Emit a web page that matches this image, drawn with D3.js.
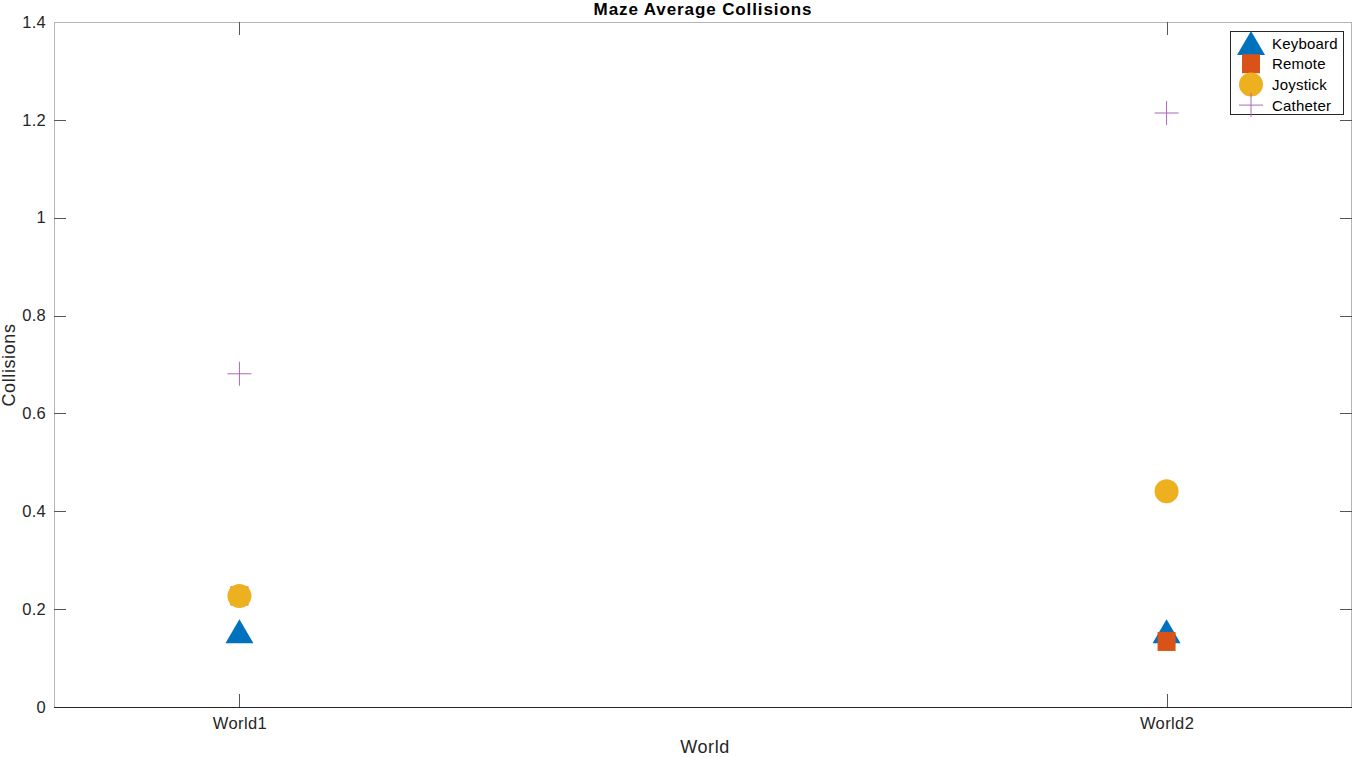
<!DOCTYPE html>
<html><head><meta charset="utf-8">
<script src="https://cdn.jsdelivr.net/npm/d3@7"></script>
<style>body{margin:0;background:#fff;} text{font-family:"Liberation Sans",Arial,sans-serif;}</style>
</head><body>
<svg id="c" width="1353" height="757"></svg>
<script>
const categories = ["World1", "World2"];
const seriesNames = ["Keyboard", "Remote", "Joystick", "Catheter"];
const keyboard = [0.155, 0.155];
const remote = [0.227, 0.134];
const joystick = [0.227, 0.441];
const catheter = [0.681, 1.214];
const yTicks = [0, 0.2, 0.4, 0.6, 0.8, 1, 1.2, 1.4];

const series = [
  {name: seriesNames[0], values: keyboard, shape: "tri", color: "#0072BD"},
  {name: seriesNames[1], values: remote, shape: "sq", color: "#D95319"},
  {name: seriesNames[2], values: joystick, shape: "circ", color: "#EDB120"},
  {name: seriesNames[3], values: catheter, shape: "plus", color: "#A66BB8"}
];

const svg = d3.select("#c");
const L = 54, R = 1352, T = 22, B = 707;
const x = d3.scaleLinear().domain([0.8, 2.2]).range([L, R]);
const y = d3.scaleLinear().domain([0, 1.4]).range([B, T]);

const g = svg.append("g");
// box
g.append("line").attr("x1", L).attr("x2", R).attr("y1", T + 0.5).attr("y2", T + 0.5).attr("stroke", "#b5b5b5");
g.append("line").attr("x1", R - 0.5).attr("x2", R - 0.5).attr("y1", T).attr("y2", B).attr("stroke", "#b5b5b5");
g.append("line").attr("x1", L + 0.5).attr("x2", L + 0.5).attr("y1", T).attr("y2", B).attr("stroke", "#b5b5b5");

// y axis
const yAxis = d3.axisLeft(y).tickValues(yTicks).tickSize(0).tickPadding(8).tickFormat(d => d3.format("~g")(d));
const ya = g.append("g").attr("transform", `translate(${L},0)`).call(yAxis);
ya.select(".domain").remove();
ya.selectAll("text").attr("font-size", 16.5).attr("letter-spacing", 0.3).attr("fill", "#262626").attr("font-family", "Liberation Sans, Arial, sans-serif");
yTicks.forEach(t => {
  if (t === 0 || t === 1.4) return;
  const yy = Math.round(y(t)) + 0.5;
  g.append("line").attr("x1", L).attr("x2", L + 12).attr("y1", yy).attr("y2", yy).attr("stroke", "#555");
  g.append("line").attr("x1", R - 12).attr("x2", R).attr("y1", yy).attr("y2", yy).attr("stroke", "#555");
});

// x axis
const xAxis = d3.axisBottom(x).tickValues([1, 2]).tickSize(0).tickPadding(10).tickFormat(d => categories[d - 1]);
const xa = g.append("g").attr("transform", `translate(0,${B})`).call(xAxis);
xa.select(".domain").remove();
xa.selectAll("text").attr("font-size", 16.5).attr("letter-spacing", 0.4).attr("fill", "#262626").attr("font-family", "Liberation Sans, Arial, sans-serif");
[1, 2].forEach(v => {
  const xx = Math.round(x(v)) + 0.5;
  g.append("line").attr("x1", xx).attr("x2", xx).attr("y1", B).attr("y2", B - 13).attr("stroke", "#555");
  g.append("line").attr("x1", xx).attr("x2", xx).attr("y1", T).attr("y2", T + 13).attr("stroke", "#555");
});
g.append("line").attr("x1", L).attr("x2", R).attr("y1", B + 0.5).attr("y2", B + 0.5).attr("stroke", "#262626");

// labels
svg.append("text").attr("x", 703).attr("y", 15).attr("text-anchor", "middle").attr("font-size", 17).attr("letter-spacing", 0.9).attr("font-weight", "bold").attr("fill", "#000").text("Maze Average Collisions");
svg.append("text").attr("x", 705).attr("y", 753).attr("text-anchor", "middle").attr("font-size", 18).attr("letter-spacing", 0.6).attr("fill", "#262626").text("World");
svg.append("text").attr("transform", "translate(15,365) rotate(-90)").attr("text-anchor", "middle").attr("font-size", 18).attr("letter-spacing", 0.6).attr("fill", "#262626").text("Collisions");

function marker(sel, shape, color, cx, cy) {
  if (shape === "tri") {
    const w = 28, h = 24;
    sel.append("path").attr("d", `M${cx},${cy - h / 2}L${cx + w / 2},${cy + h / 2}L${cx - w / 2},${cy + h / 2}Z`).attr("fill", color);
  } else if (shape === "sq") {
    sel.append("rect").attr("x", cx - 9).attr("y", cy - 9.5).attr("width", 18).attr("height", 19).attr("fill", color);
  } else if (shape === "circ") {
    sel.append("circle").attr("cx", cx).attr("cy", cy).attr("r", 12).attr("fill", color);
  } else {
    sel.append("path").attr("d", `M${cx - 12},${cy}H${cx + 12}M${cx},${cy - 12}V${cy + 12}`).attr("stroke", color).attr("stroke-width", 1).attr("fill", "none");
  }
}

const marks = svg.append("g");
series.forEach(s => {
  s.values.forEach((v, i) => marker(marks, s.shape, s.color, x(i + 1), y(v)));
});

// legend
const lg = svg.append("g");
lg.append("rect").attr("x", 1230.5).attr("y", 31.5).attr("width", 113).attr("height", 83).attr("fill", "#fff").attr("stroke", "#262626").attr("stroke-width", 1);
series.forEach((s, i) => {
  const yy = 43 + i * 20.7;
  marker(lg, s.shape, s.color, 1251, yy);
  lg.append("text").attr("x", 1272).attr("y", yy + 5.5).attr("font-size", 15).attr("letter-spacing", 0.2).attr("fill", "#000").text(s.name);
});
</script>
</body></html>
